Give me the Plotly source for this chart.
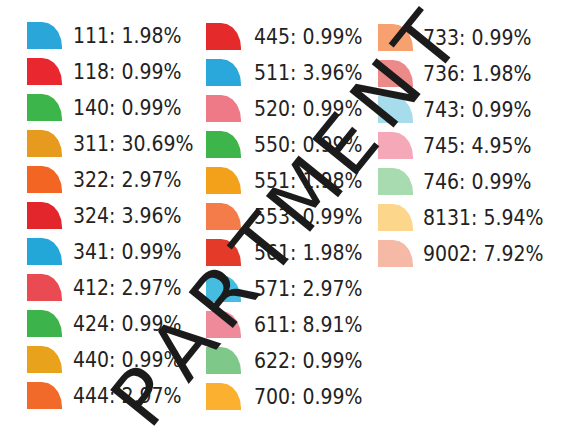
import numpy as np
import plotly.graph_objects as go

# ---- data ----
codes = ["111", "118", "140", "311", "322", "324", "341", "412", "424", "440", "444",
         "445", "511", "520", "550", "551", "553", "561", "571", "611", "622", "700",
         "733", "736", "743", "745", "746", "8131", "9002"]
shares = [1.98, 0.99, 0.99, 30.69, 2.97, 3.96, 0.99, 2.97, 0.99, 0.99, 2.97,
          0.99, 3.96, 0.99, 0.99, 1.98, 0.99, 1.98, 2.97, 8.91, 0.99, 0.99,
          0.99, 1.98, 0.99, 4.95, 0.99, 5.94, 7.92]
colors = ["#2aa6d9", "#e8282e", "#3cb54a", "#e69a1e", "#f26522", "#e3262b", "#23a6d8",
          "#ea4a52", "#3db44b", "#e8a21c", "#f26a2a",
          "#e42a2a", "#2aa8dc", "#ef7a87", "#3db54a", "#f3a01a", "#f47b4a", "#e33a2a",
          "#45bde0", "#ee8a9a", "#7ec98a", "#fbb030",
          "#f7a070", "#ec8a8a", "#a6dcec", "#f4a8b8", "#a8dcb0", "#fcd68a", "#f6b9a5"]
watermark = "DEPARTMENT"

# ---- layout helpers ----
W, H = 571, 433
rows_per_col = 11
col_icon_x = [27, 206, 378]
col_text_x = [73, 254, 423]
col_dy = [0, 1, 2]
row_top0, row_pitch = 22, 36
icon_w, icon_h, rx, ry = 35, 27, 20, 25

font_fam = "DejaVu Sans Condensed, DejaVu Sans, Liberation Sans, sans-serif"

fig = go.Figure()

t = np.linspace(0, np.pi / 2, 30)
tx, ty, tl = [], [], []
for i, (c, s, col) in enumerate(zip(codes, shares, colors)):
    ci, ri = divmod(i, rows_per_col)
    x0 = col_icon_x[ci]
    top = row_top0 + ri * row_pitch + col_dy[ci]
    bot = top + icon_h
    cx, cy = x0 + icon_w - rx, top + ry
    ax = cx + rx * np.sin(t)
    ay = cy - ry * np.cos(t)
    xs = [x0, x0] + list(ax) + [x0 + icon_w, x0]
    ys = [bot, top] + list(ay) + [bot, bot]
    fig.add_trace(go.Scatter(x=xs, y=ys, mode="lines", fill="toself",
                             fillcolor=col, line=dict(width=0, color=col),
                             hoverinfo="skip", showlegend=False))
    tx.append(col_text_x[ci])
    ty.append(top + icon_h / 2 + 2)
    tl.append(f"{c}: {s:.2f}%")

fig.add_trace(go.Scatter(x=tx, y=ty, mode="text", text=tl, textposition="middle right",
                         textfont=dict(family=font_fam, size=21, color="#222222"),
                         hoverinfo="skip", showlegend=False))

# watermark stamp letters along a diagonal
start_x, start_y = 62, 498
step_x, step_y = 40.5, -50.5
for k, ch in enumerate(watermark):
    fig.add_annotation(x=start_x + k * step_x, y=start_y + k * step_y, text=ch,
                       showarrow=False, textangle=-51, xref="x", yref="y",
                       font=dict(family="DejaVu Sans, sans-serif", size=78, color="#1b1b1b"))

fig.update_xaxes(range=[0, W], visible=False, fixedrange=True)
fig.update_yaxes(range=[H, 0], visible=False, fixedrange=True)
fig.update_layout(width=W, height=H, margin=dict(l=0, r=0, t=0, b=0),
                  plot_bgcolor="white", paper_bgcolor="white", showlegend=False)

fig.write_html("out.html", config={"displayModeBar": False},
               post_script="document.body.style.margin='0';")
